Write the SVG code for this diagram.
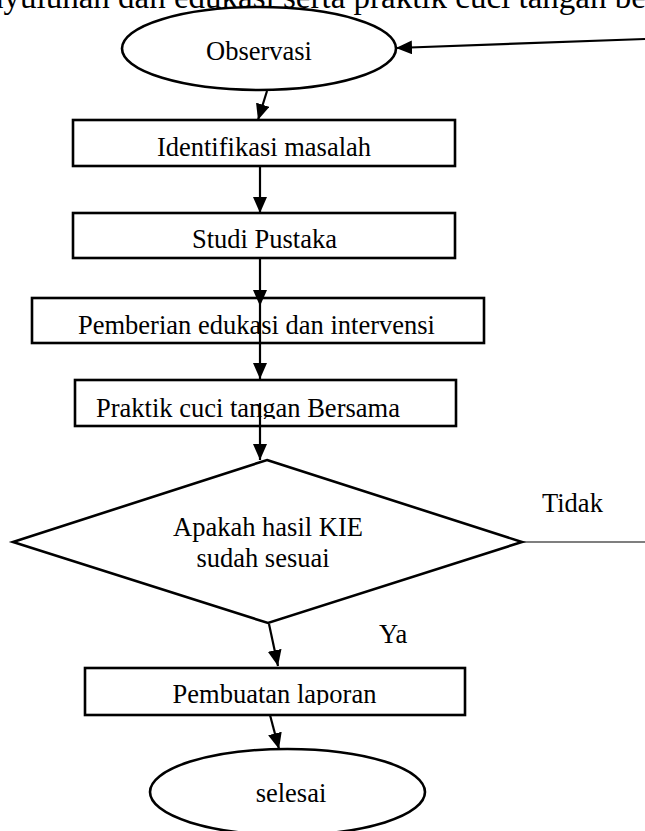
<svg xmlns="http://www.w3.org/2000/svg" width="645" height="831" viewBox="0 0 645 831">
<style>
text{font-family:"Liberation Serif","Times New Roman",serif;font-size:26.5px;fill:#000}
.shape{fill:#fff;stroke:#000;stroke-width:2.6}
.conn{fill:none;stroke:#000;stroke-width:2.2}
.thin{fill:none;stroke:#000;stroke-width:1.2}
.c{text-anchor:middle}
</style>
<defs>
<marker id="arr" markerUnits="userSpaceOnUse" markerWidth="16" markerHeight="14" refX="16" refY="7" orient="auto">
<path d="M0,0 L16,7 L0,14 z" fill="#000"/>
</marker>
<clipPath id="clipPraktik"><rect x="75" y="380" width="381" height="39"/></clipPath>
<clipPath id="clipLaporan"><rect x="85" y="668" width="380" height="37"/></clipPath>
</defs>
<rect width="645" height="831" fill="#fff"/>
<text x="-13" y="8" style="font-size:33px">nyuluhan dan edukasi serta praktik cuci tangan ber</text>

<g id="observasi">
<ellipse class="shape" cx="259" cy="48.5" rx="137" ry="41.5"/>
<text class="c" x="259" y="60">Observasi</text>
</g>
<g id="identifikasi">
<rect class="shape" x="73" y="120" width="382" height="46"/>
<text class="c" x="264" y="156">Identifikasi masalah</text>
</g>
<g id="studi">
<rect class="shape" x="73" y="213" width="382" height="45"/>
<text class="c" x="264.5" y="248">Studi Pustaka</text>
</g>
<g id="pemberian">
<rect class="shape" x="32" y="298" width="452" height="45"/>
<text x="78" y="334">Pemberian edukasi dan intervensi</text>
</g>
<g id="praktik">
<rect class="shape" x="75" y="380" width="381" height="46"/>
<text x="96" y="417" clip-path="url(#clipPraktik)">Praktik cuci tangan Bersama</text>
</g>
<g id="keputusan">
<polygon class="shape" points="267,460 522,542 268,623 13,542"/>
<text class="c" x="268" y="536">Apakah hasil KIE</text>
<text class="c" x="263" y="567">sudah sesuai</text>
</g>
<g id="pembuatan">
<rect class="shape" x="85" y="668" width="380" height="47"/>
<text class="c" x="274.5" y="703" clip-path="url(#clipLaporan)">Pembuatan laporan</text>
</g>
<g id="selesai">
<ellipse class="shape" cx="287.5" cy="792" rx="137.5" ry="43"/>
<text class="c" x="291" y="802">selesai</text>
</g>

<g id="connectors">
<path class="conn" d="M645,39 L396,48" marker-end="url(#arr)"/>
<path class="conn" d="M267,91 L258,120" marker-end="url(#arr)"/>
<path class="conn" d="M260,166 L260,213" marker-end="url(#arr)"/>
<path class="conn" d="M260,258 L260,306" marker-end="url(#arr)"/>
<path class="conn" d="M260,306 L260,379" marker-end="url(#arr)"/>
<path class="conn" d="M260,403 L260,460" marker-end="url(#arr)"/>
<path class="thin" d="M522,542 L645,542"/>
<path class="conn" d="M269,624 L278,666" marker-end="url(#arr)"/>
<path class="conn" d="M270,715 L279,749" marker-end="url(#arr)"/>
<text x="542" y="512">Tidak</text>
<text x="379" y="643">Ya</text>
</g>
</svg>
